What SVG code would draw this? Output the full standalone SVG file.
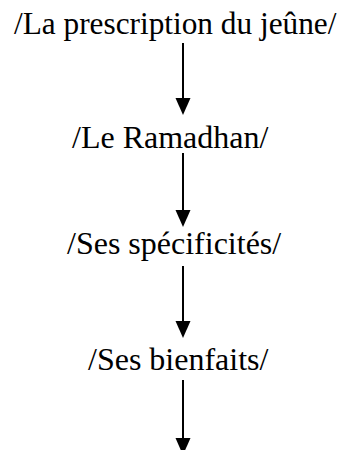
<svg xmlns="http://www.w3.org/2000/svg" width="344" height="450" viewBox="0 0 344 450">
<style>
.t{font-family:'Liberation Serif','Times New Roman',serif;font-size:32px;fill:#000}
.c{stroke:#000;stroke-width:2;fill:none}
</style>
<rect width="344" height="450" fill="#fff"/>
<g id="n1"><text class="t" x="14" y="34" style="font-size:31.3px">/La prescription du jeûne/</text></g>
<g id="n2"><text class="t" x="72" y="148">/Le Ramadhan/</text></g>
<g id="n3"><text class="t" x="67" y="254">/Ses spécificités/</text></g>
<g id="n4"><text class="t" x="88" y="370">/Ses bienfaits/</text></g>
<g id="connectors">
<line class="c" x1="183" y1="43" x2="183" y2="99"/>
<polygon points="175.5,98 190.5,98 183,115" fill="#000"/>
<line class="c" x1="183" y1="153" x2="183" y2="211"/>
<polygon points="175.5,210 190.5,210 183,227" fill="#000"/>
<line class="c" x1="183" y1="266" x2="183" y2="322"/>
<polygon points="175.5,321 190.5,321 183,338" fill="#000"/>
<line class="c" x1="183" y1="380" x2="183" y2="439"/>
<polygon points="175.5,438 190.5,438 183,455" fill="#000"/>
</g>
</svg>
